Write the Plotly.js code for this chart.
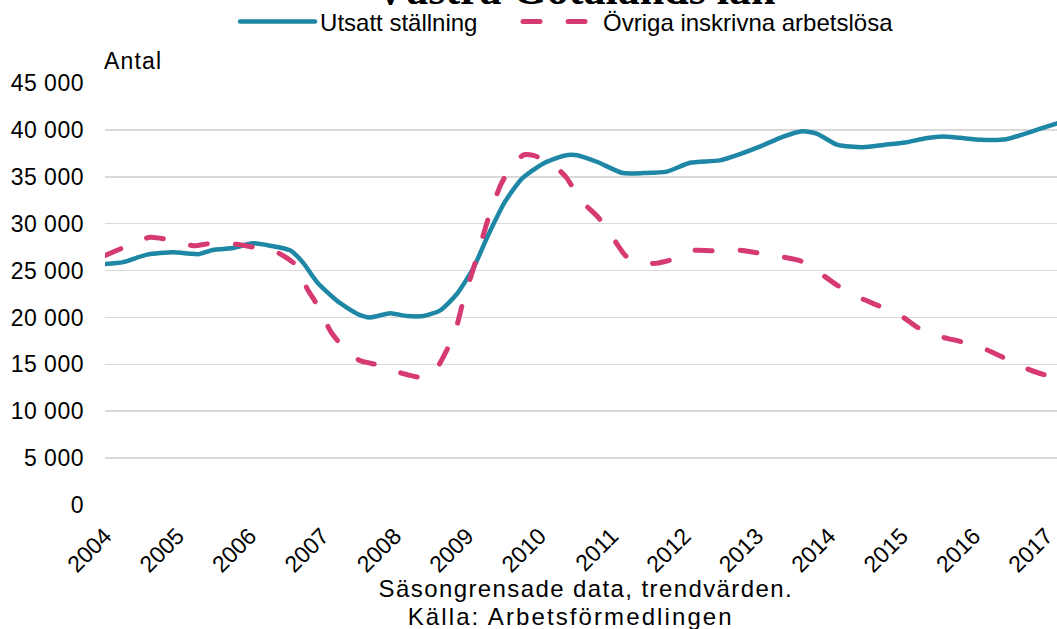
<!DOCTYPE html>
<html>
<head>
<meta charset="utf-8">
<script src="https://cdn.plot.ly/plotly-3.0.1.min.js"></script>
<style>
html, body { margin: 0; padding: 0; background: #fff; }
#chart { width: 1057px; height: 629px; }
.scatterlayer path.js-line, .legend path.js-line { stroke-linecap: round; }
g.annotation[data-index="0"] text { letter-spacing: 1.2px; }
g.annotation[data-index="1"] text { letter-spacing: 1.4px; }
g.annotation[data-index="2"] text { letter-spacing: 2.1px; }
.yaxislayer-above .ytick text { letter-spacing: 0.5px; }
</style>
</head>
<body>
<div id="chart"></div>
<script>
// Tick labels (years)
const yearTicks = [2004, 2005, 2006, 2007, 2008, 2009, 2010, 2011, 2012, 2013, 2014, 2015, 2016, 2017];
const yearLabels = yearTicks.map(String);

// Utsatt ställning (decimal year, antal)
const utsattX = [2004.00, 2004.25, 2004.58, 2004.94, 2005.17, 2005.30, 2005.49, 2005.77, 2006.04, 2006.28,
  2006.56, 2006.73, 2006.93, 2007.20, 2007.48, 2007.66, 2007.94, 2008.17, 2008.40, 2008.63,
  2008.86, 2009.09, 2009.30, 2009.53, 2009.76, 2010.05, 2010.34, 2010.52, 2010.81, 2011.15,
  2011.44, 2011.76, 2012.08, 2012.49, 2012.78, 2013.07, 2013.36, 2013.63, 2013.83, 2014.12,
  2014.47, 2014.76, 2015.05, 2015.34, 2015.57, 2015.81, 2016.10, 2016.45, 2016.69, 2016.91, 2017.15];
const utsattY = [25700, 25900, 26700, 26950, 26800, 26750, 27200, 27400, 27900, 27650,
  27150, 25900, 23750, 21800, 20400, 20000, 20450, 20150, 20150, 20750,
  22500, 25300, 28900, 32400, 34800, 36400, 37250, 37300, 36550, 35400,
  35400, 35550, 36500, 36750, 37450, 38300, 39250, 39850, 39600, 38400,
  38150, 38400, 38650, 39100, 39300, 39150, 38950, 39000, 39550, 40100, 40700];

// Övriga inskrivna arbetslösa (decimal year, antal)
const ovrigaX = [2004.00, 2004.30, 2004.62, 2004.87, 2005.22, 2005.47, 2005.82, 2006.05, 2006.30, 2006.46,
  2006.65, 2006.79, 2006.95, 2007.11, 2007.27, 2007.52, 2007.80, 2008.12, 2008.37, 2008.55,
  2008.70, 2008.83, 2008.94, 2009.12, 2009.30, 2009.47, 2009.64, 2009.79, 2009.93, 2010.17,
  2010.37, 2010.57, 2010.81, 2011.04, 2011.21, 2011.56, 2011.80, 2012.14, 2012.38, 2012.72,
  2012.96, 2013.36, 2013.60, 2013.89, 2014.12, 2014.41, 2014.67, 2014.99, 2015.22, 2015.57,
  2015.81, 2016.15, 2016.39, 2016.73, 2016.97, 2017.10];
const ovrigaY = [26600, 27600, 28550, 28300, 27650, 27900, 27800, 27500, 27200, 26600,
  25500, 23100, 21100, 18600, 17000, 15400, 14900, 14000, 13600, 14200,
  16200, 18300, 21500, 26000, 30700, 34200, 36400, 37350, 37250, 36400,
  34950, 32500, 30700, 28200, 26450, 25750, 26100, 27150, 27100, 27200,
  26950, 26450, 26050, 24650, 23400, 22150, 21300, 20200, 18950, 17900,
  17450, 16650, 15800, 14550, 13900, 13700];

const yTicks = [0, 5000, 10000, 15000, 20000, 25000, 30000, 35000, 40000, 45000];
const yLabels = ["0", "5 000", "10 000", "15 000", "20 000", "25 000", "30 000", "35 000", "40 000", "45 000"];

const FONT = "Liberation Sans, Arial, sans-serif";

const traces = [
  {
    x: utsattX, y: utsattY, type: "scatter", mode: "lines", name: "Utsatt ställning",
    legendwidth: 193,
    line: { color: "#1f87a6", width: 4.5, shape: "spline", smoothing: 0.6 }
  },
  {
    x: ovrigaX, y: ovrigaY, type: "scatter", mode: "lines", name: "Övriga inskrivna arbetslösa",
    line: { color: "#d63a72", width: 5, dash: "17px,28px", shape: "spline", smoothing: 0.6 }
  }
];

const layout = {
  width: 1057, height: 629,
  margin: { l: 105, r: 0, t: 83, b: 124 },
  paper_bgcolor: "#ffffff", plot_bgcolor: "#ffffff",
  font: { family: FONT, size: 23, color: "#000000" },
  title: {
    text: "<b>Västra Götalands län</b>",
    font: { family: "Liberation Serif, Times New Roman, serif", size: 44, color: "#000000" },
    x: 0.544, xanchor: "center", xref: "container",
    y: 0.993, yanchor: "bottom", yref: "container"
  },
  showlegend: true,
  legend: {
    orientation: "h", x: 0.1366, xanchor: "left",
    y: 0.965, yanchor: "middle", yref: "container",
    font: { family: FONT, size: 24, color: "#000000" },
    itemwidth: 75,
    bgcolor: "rgba(0,0,0,0)", traceorder: "normal"
  },
  xaxis: {
    type: "linear", range: [2004, 2017.15],
    tickmode: "array", tickvals: yearTicks, ticktext: yearLabels,
    tickangle: -45, showgrid: false, zeroline: false, showline: false,
    ticks: "", ticklabelstandoff: 12, ticklabeloverflow: "allow",
    tickfont: { family: FONT, size: 23, color: "#000000" },
    fixedrange: true
  },
  yaxis: {
    range: [0, 45000],
    tickmode: "array", tickvals: yTicks, ticktext: yLabels,
    showgrid: true, gridcolor: "#d9d9d9", gridwidth: 1.5,
    zeroline: false, showline: false, ticks: "", ticklabelstandoff: 20,
    tickfont: { family: FONT, size: 23, color: "#000000" },
    fixedrange: true
  },
  annotations: [
    { text: "Antal", xref: "paper", yref: "paper", x: 0, y: 1.052, xanchor: "left", yanchor: "middle",
      showarrow: false, font: { family: FONT, size: 23, color: "#000000" } },
    { text: "Säsongrensade data, trendvärden.", xref: "paper", yref: "paper", x: 0.505, y: -0.197,
      xanchor: "center", yanchor: "middle", showarrow: false, font: { family: FONT, size: 24, color: "#000000" } },
    { text: "Källa: Arbetsförmedlingen", xref: "paper", yref: "paper", x: 0.489, y: -0.265,
      xanchor: "center", yanchor: "middle", showarrow: false, font: { family: FONT, size: 24, color: "#000000" } }
  ]
};

Plotly.newPlot("chart", traces, layout, { staticPlot: true, displayModeBar: false });
</script>
</body>
</html>
